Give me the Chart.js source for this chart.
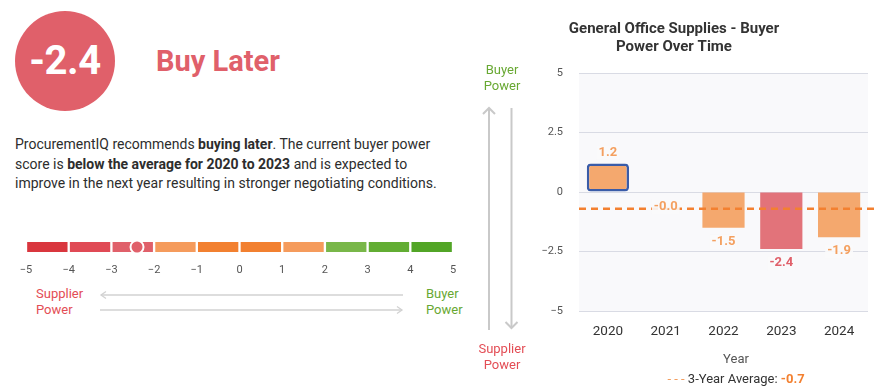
<!DOCTYPE html>
<html>
<head>
<meta charset="utf-8">
<script src="https://cdn.jsdelivr.net/npm/chart.js@4.4.1/dist/chart.umd.min.js"></script>
<style>
    body { margin: 0; background: #fff; font-family: Roboto, "Noto Sans", sans-serif; }
    #page { position: relative; width: 883px; height: 388px; overflow: hidden; }
    .abs { position: absolute; white-space: nowrap; }
    #score-circle {
        left: 15px; top: 11px; width: 100px; height: 100px; border-radius: 50%;
        background: #e0606a; color: #fff; font-weight: 700; font-size: 40px;
        line-height: 100px; text-align: center; letter-spacing: -0.5px;
    }
    #verdict { left: 156px; top: 43px; font-size: 29px; font-weight: 700; color: #e0606a; line-height: 36px; }
    #summary { left: 15px; top: 135px; font-size: 14px; line-height: 19.6px; color: #2d2d2d; }
    #summary b { font-weight: 700; }
    .supplier { color: #e34d55; font-size: 13px; line-height: 15.5px; }
    .buyer { color: #68a832; font-size: 13px; line-height: 16px; }
    #year-title { left: 636px; width: 200px; top: 351px; text-align: center; font-size: 13px; color: #555; }
    #avg-legend { left: 586px; width: 300px; top: 371px; text-align: center; font-size: 13px; color: #333; }
    #avg-legend .dash { color: #f39a58; }
    #avg-legend .val { color: #f38030; font-weight: 700; }
</style>
</head>
<body>
<div id="page">
    <div class="abs" id="score-circle"></div>
    <div class="abs" id="verdict">Buy Later</div>
    <div class="abs" id="summary">
        ProcurementIQ recommends <b>buying later</b>. The current buyer power<br>
        score is <b>below the average for 2020 to 2023</b> and is expected to<br>
        improve in the next year resulting in stronger negotiating conditions.
    </div>

    <canvas id="scaleChart" class="abs" style="left:0;top:227px;width:470px;height:50px"></canvas>

    <div class="abs supplier" style="left:36px;top:286px">Supplier<br>Power</div>
    <div class="abs buyer" style="left:426px;top:286px">Buyer<br>Power</div>

    <svg class="abs" style="left:0;top:0" width="883" height="388">
        <g fill="none" stroke="#d2d2d2" stroke-width="1.3">
            <line x1="101" y1="295" x2="403" y2="295"/>
            <polyline points="106,291.5 101,295 106,298.5"/>
            <line x1="100" y1="310" x2="402" y2="310"/>
            <polyline points="397,306.5 402,310 397,313.5"/>
        </g>
        <g fill="none" stroke="#c9c9c9" stroke-width="2">
            <line x1="489" y1="108" x2="489" y2="330"/>
            <polyline points="483,114 489,108 495,114"/>
            <line x1="511.5" y1="108" x2="511.5" y2="328"/>
            <polyline points="505.5,322 511.5,328 517.5,322"/>
        </g>
    </svg>

    <div class="abs buyer" style="left:452px;width:100px;text-align:center;top:62px">Buyer<br>Power</div>
    <div class="abs supplier" style="left:452px;width:100px;text-align:center;top:341px">Supplier<br>Power</div>

    <canvas id="powerChart" class="abs" style="left:480px;top:0;width:398px;height:341px"></canvas>

    <div class="abs" id="year-title">Year</div>
    <div class="abs" id="avg-legend"></div>
</div>

<script>
/**
 * Data
 */
const currentScore = -2.4;
const scaleStarts = [-5, -4, -3, -2, -1, 0, 1, 2, 3, 4];
const scaleColors = ['#d9363e', '#e04a55', '#e0606a', '#f59b5c', '#f28030',
                     '#f28030', '#f59b5c', '#79b749', '#62ad33', '#52a526'];

const years = ['2020', '2021', '2022', '2023', '2024'];
const buyerPower = [1.2, -0.02, -1.5, -2.4, -1.9];
const barColors = ['#f4a86e', '#f4a86e', '#f4a86e', '#e2737a', '#f4a86e'];
const labelColors = ['#f4a060', '#f4a060', '#f4a060', '#e0606a', '#f4a060'];
const threeYearAverage = -0.7;

/**
 * Helpers
 */
function minus(v) {
    return v < 0 ? '\u2212' + Math.abs(v) : String(v);
}

Chart.defaults.font.family = 'Roboto, "Noto Sans", sans-serif';
Chart.defaults.animation = false;

document.getElementById('score-circle').textContent = currentScore.toFixed(1);
document.getElementById('avg-legend').innerHTML =
    '<span class="dash">- - -</span> 3-Year Average: <span class="val">' + threeYearAverage.toFixed(1) + '</span>';

/**
 * Score scale
 */
const markerPlugin = {
    id: 'marker',
    afterDatasetsDraw(chart) {
        const ctx = chart.ctx;
        const bar = chart.getDatasetMeta(0).data[0];
        const x = chart.scales.x.getPixelForValue(currentScore);
        ctx.save();
        ctx.beginPath();
        ctx.arc(x, bar.y, 6.5, 0, Math.PI * 2);
        ctx.fillStyle = '#e0606a';
        ctx.fill();
        ctx.lineWidth = 2;
        ctx.strokeStyle = '#fff';
        ctx.stroke();
        ctx.restore();
    }
};

new Chart(document.getElementById('scaleChart'), {
    type: 'bar',
    data: {
        labels: ['score'],
        datasets: [{
            data: scaleStarts.map(s => ({ x: [s, s + 1], y: 'score' })),
            backgroundColor: scaleColors,
            borderColor: '#fff',
            borderWidth: { left: 1.5, right: 1.5, top: 0, bottom: 0 },
            borderSkipped: false,
            barThickness: 10
        }]
    },
    options: {
        indexAxis: 'y',
        responsive: false,
        layout: { padding: { left: 26, right: 17, top: 10, bottom: 0 } },
        plugins: { legend: { display: false }, tooltip: { enabled: false } },
        scales: {
            x: {
                type: 'linear', min: -5, max: 5,
                grid: { display: false }, border: { display: false },
                ticks: { stepSize: 1, padding: -1, color: '#555', font: { size: 11 }, callback: minus },
                afterFit: s => { s.height = 20; }
            },
            y: { display: false }
        }
    },
    plugins: [markerPlugin]
});

/**
 * Buyer power over time
 */
const decorPlugin = {
    id: 'decor',
    beforeDraw(chart) {
        const a = chart.chartArea;
        chart.ctx.save();
        chart.ctx.fillStyle = '#f9f9fb';
        chart.ctx.fillRect(a.left, a.top, a.right - a.left, a.bottom - a.top);
        chart.ctx.restore();
    },
    afterDatasetsDraw(chart) {
        const ctx = chart.ctx;
        const y = chart.scales.y.getPixelForValue(threeYearAverage);

        // average line
        ctx.save();
        ctx.strokeStyle = '#f38030';
        ctx.lineWidth = 2.5;
        ctx.setLineDash([7, 5]);
        ctx.beginPath();
        ctx.moveTo(chart.chartArea.left, y);
        ctx.lineTo(chart.width, y);
        ctx.stroke();
        ctx.restore();

        // value labels
        const meta = chart.getDatasetMeta(0);
        ctx.save();
        ctx.font = 'bold 13px Roboto, sans-serif';
        ctx.textAlign = 'center';
        ctx.textBaseline = 'middle';
        meta.data.forEach((bar, i) => {
            const v = buyerPower[i];
            const text = v.toFixed(1);
            const ly = v >= 0 ? bar.y - 10.5 : bar.y + 14;
            const w = ctx.measureText(text).width;
            ctx.fillStyle = 'rgba(249,249,251,0.9)';
            ctx.fillRect(bar.x - w / 2 - 2, ly - 7, w + 4, 14);
            ctx.fillStyle = labelColors[i];
            ctx.fillText(text, bar.x, ly);
        });
        ctx.restore();
    }
};

new Chart(document.getElementById('powerChart'), {
    type: 'bar',
    data: {
        labels: years,
        datasets: [{
            data: buyerPower,
            backgroundColor: barColors,
            borderColor: '#3a5ca8',
            borderWidth: ctx => ctx.dataIndex === 0 ? 2.5 : 0,
            borderRadius: ctx => ctx.dataIndex === 0 ? 4 : 0,
            borderSkipped: false,
            barPercentage: 0.73,
            categoryPercentage: 1
        }]
    },
    options: {
        responsive: false,
        layout: { padding: { left: 0, right: 10, top: 0, bottom: 0 } },
        plugins: {
            legend: { display: false },
            tooltip: { enabled: false },
            title: {
                display: true,
                text: ['General Office Supplies - Buyer', 'Power Over Time'],
                color: '#333',
                font: { size: 15, weight: 'bold', lineHeight: 1.2 },
                padding: { top: 20, bottom: 17 }
            }
        },
        scales: {
            y: {
                min: -5, max: 5,
                grid: { color: '#d9dbe4', drawTicks: false },
                border: { display: false },
                ticks: { stepSize: 2.5, padding: 16, color: '#555', font: { size: 11 }, callback: minus },
                afterFit: s => { s.width = 99; }
            },
            x: {
                grid: { display: false },
                border: { display: false },
                ticks: { padding: 5, color: '#333', font: { size: 13.5 } },
                afterFit: s => { s.height = 30; }
            }
        }
    },
    plugins: [decorPlugin]
});
</script>
</body>
</html>
